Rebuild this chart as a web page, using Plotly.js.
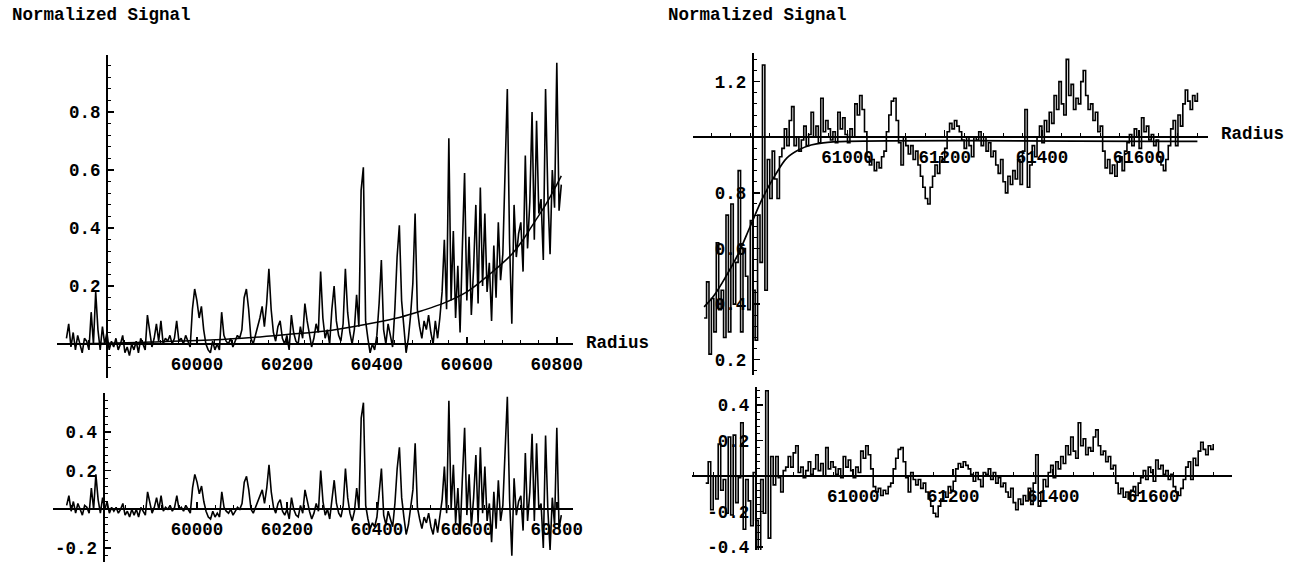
<!DOCTYPE html>
<html>
<head>
<meta charset="utf-8">
<script src="https://cdn.plot.ly/plotly-3.0.1.min.js"></script>
<style>html,body{margin:0;padding:0;background:#fff;}#chart{width:1306px;height:563px;}</style>
</head>
<body>
<div id="chart"></div>
<script>
// ---------- DATA ----------
// Left panels: radius grid start/step and signal
const LEFT_R0 = 59710, LEFT_DR = 5;
const TL_SIGNAL = [
 .02,.07,-.01,.04,-.02,.03,0,-.03,.02,.01,
 -.02,.11,0,.18,.05,-.02,.06,0,.04,-.02,
 .01,-.01,.02,-.02,0,.03,-.03,-.01,-.04,0,
 -.02,.01,-.03,.02,0,-.02,.10,.04,-.01,.02,
 .07,.01,.08,0,.02,.01,.03,0,.02,.08,
 .01,.02,0,.03,.01,-.01,.12,.19,.15,.09,
 .13,.05,0,-.02,-.03,.01,-.02,0,-.02,.11,
 .03,.01,0,.02,-.01,.01,.03,.02,.05,.16,
 .19,.12,.02,0,.03,.05,.09,.13,.06,.14,
 .26,.12,.04,.01,.06,.08,.02,0,.03,-.02,
 .10,.04,.01,0,.06,.02,.14,.08,.03,-.01,
 .02,.07,.04,.25,.09,.02,.05,0,.12,.20,
 .08,.03,.01,.07,.26,.11,.04,0,.05,.17,
 .06,.53,.61,.08,.02,-.03,0,-.02,.03,.14,
 .29,.05,0,.07,.03,-.01,.12,.30,.41,.15,
 .06,-.03,.02,.10,.21,.45,.12,.06,.02,.08,
 .05,.10,.04,0,.08,.02,.09,.18,.36,.12,
 .71,.15,.39,.09,.27,.04,.33,.59,.15,.37,
 .10,.26,.48,.14,.54,.20,.45,.18,.28,.08,
 .34,.16,.42,.22,.31,.62,.88,.35,.07,.48,
 .30,.38,.42,.25,.65,.33,.49,.80,.36,.77,
 .45,.50,.29,.88,.52,.31,.60,.47,.97,.46,
 .55
];
const TL_FIT_R = [59710,59800,59900,60000,60100,60200,60300,60400,60450,60500,60550,60600,60650,60700,60725,60750,60775,60800,60810];
const TL_FIT_V = [0.0,0.003,0.007,0.012,0.02,0.033,0.048,0.075,0.092,0.115,0.142,0.18,0.24,0.31,0.36,0.42,0.48,0.55,0.58];
const BL_RESID = [
 .02,.07,-.01,.04,-.02,.03,0,-.03,.02,.01,
 -.02,.11,0,.18,.05,-.02,.06,0,.04,-.02,
 .01,-.01,.01,-.02,0,.03,-.03,-.01,-.04,0,
 -.03,0,-.04,.01,-.01,-.03,.09,.03,-.02,.01,
 .06,0,.07,-.01,.01,0,.02,-.01,.01,.07,
 0,.01,-.01,.02,0,-.02,.11,.18,.14,.08,
 .12,.04,-.01,-.04,-.05,-.01,-.04,-.02,-.04,.09,
 .01,-.01,-.02,0,-.03,-.01,.01,0,.03,.14,
 .17,.10,0,-.02,.01,.03,.06,.10,.03,.11,
 .23,.09,.01,-.02,.03,.05,-.01,-.03,0,-.05,
 .06,0,-.03,-.04,.02,-.02,.10,.04,-.01,-.05,
 -.02,.03,-.01,.20,.04,-.03,0,-.05,.07,.15,
 .03,-.02,-.04,.02,.21,.06,-.02,-.06,-.01,.11,
 0,.47,.55,.02,-.05,-.10,-.07,-.09,-.04,.07,
 .21,-.03,-.08,-.01,-.05,-.09,.03,.21,.32,.06,
 -.04,-.13,-.08,0,.10,.34,.01,-.05,-.10,-.04,
 -.07,-.02,-.09,-.13,-.05,-.12,-.04,.05,.22,-.02,
 .56,0,.23,-.07,.11,-.13,.16,.42,-.03,.18,
 -.09,.06,.28,-.07,.32,-.02,.22,-.06,.03,-.17,
 .09,-.10,.15,-.06,.02,.32,.58,.05,-.24,.16,
 -.03,.04,.07,-.11,.29,-.06,.09,.39,-.06,.34,
 0,.03,-.20,.38,0,-.21,.06,-.08,.42,-.10,
 -.03
];
// Right panels
const RIGHT_R0 = 60705, RIGHT_DR = 5;
const TR_SIGNAL = [
 .35,.48,.22,.42,.30,.62,.38,.45,.28,.72,
 .30,.76,.40,.55,.88,.30,.60,.50,.38,.70,
 .45,.27,.72,.55,1.26,.45,.92,.78,.95,.85,
 .78,.93,.96,1.03,.97,1.06,1.11,.97,1.00,.95,
 .99,1.04,.97,1.01,1.09,1.00,1.04,.98,1.14,1.02,
 1.06,1.03,.99,1.02,.98,1.09,1.03,1.07,1.01,.98,
 1.03,1.00,1.12,1.08,1.15,1.10,1.02,.93,.90,.92,
 .88,.91,.89,.93,.95,1.02,1.08,1.13,1.14,1.06,
 .98,.90,1.00,.97,.94,.97,.92,.95,.90,.86,
 .82,.78,.76,.82,.86,.90,.87,.93,.91,.96,
 1.02,1.05,1.03,1.06,1.04,1.02,.99,.96,1.00,.97,
 .93,1.00,.99,1.02,.97,1.00,.95,.98,.93,.95,
 .90,.87,.92,.84,.80,.86,.83,.88,.85,.92,
 .83,.95,1.10,.82,.90,.97,.93,1.00,1.04,.98,
 1.06,1.02,1.09,1.05,1.15,1.10,1.20,1.12,1.08,1.28,
 1.15,1.19,1.10,1.14,1.12,1.20,1.24,1.15,1.10,1.12,
 1.06,1.09,1.02,1.04,.95,.89,.92,.87,.90,.86,
 .91,.93,.88,.95,.98,1.01,.97,1.03,1.00,.96,
 1.07,1.02,1.04,.99,1.01,.97,.99,.93,.90,.88,
 .92,.97,1.03,1.06,.97,1.08,1.04,1.12,1.17,1.13,
 1.10,1.15,1.13,1.16
];
const TR_FIT_R = [60705,60725,60750,60775,60800,60825,60850,60875,60900,60925,60950,61000,61720];
const TR_FIT_V = [0.39,0.43,0.50,0.58,0.68,0.78,0.86,0.925,0.955,0.972,0.98,0.985,0.985];
const BR_RESID = [
 -.04,.08,-.19,0,-.13,.18,-.08,-.02,-.21,.22,
 -.22,.23,-.15,-.01,.30,-.30,-.02,-.14,-.28,.02,
 -.25,-.45,-.02,-.21,.48,-.35,.11,-.05,.11,-.01,
 -.09,.03,.05,.11,.05,.13,.17,.02,.05,-.01,
 .03,.08,.01,.04,.12,.03,.07,0,.16,.04,
 .08,.05,.01,.04,-.01,.11,.05,.09,.03,-.01,
 .05,.02,.14,.10,.17,.12,.04,-.06,-.09,-.07,
 -.11,-.08,-.10,-.06,-.04,.04,.10,.15,.16,.08,
 -.01,-.09,.02,-.02,-.05,-.02,-.07,-.04,-.09,-.13,
 -.17,-.21,-.23,-.17,-.13,-.09,-.12,-.06,-.08,-.03,
 .04,.07,.05,.08,.06,.04,.01,-.03,.02,-.02,
 -.06,.02,.01,.04,-.02,.02,-.04,-.01,-.06,-.04,
 -.09,-.12,-.07,-.15,-.19,-.13,-.16,-.11,-.14,-.07,
 -.16,-.04,.12,-.17,-.09,-.02,-.06,.02,.06,-.01,
 .08,.04,.11,.07,.17,.12,.22,.14,.10,.30,
 .17,.21,.12,.16,.14,.22,.26,.17,.12,.14,
 .08,.11,.04,.06,-.04,-.10,-.07,-.12,-.09,-.13,
 -.08,-.06,-.11,-.04,-.01,.03,-.02,.05,.02,-.03,
 .09,.04,.06,.01,.03,-.02,.01,-.06,-.09,-.11,
 -.07,-.02,.05,.08,-.02,.10,.06,.14,.19,.15,
 .12,.17,.15,.18
];
// Tick labels
const LEFT_XTICKS = [60000,60200,60400,60600,60800];
const RIGHT_XTICKS = [61000,61200,61400,61600];
const TL_YTICKS = [0.2,0.4,0.6,0.8];
const BL_YTICKS = [-0.2,0.2,0.4];
const TR_YTICKS = [0.2,0.4,0.6,0.8,1.2];
const BR_YTICKS = [-0.4,-0.2,0.2,0.4];
const TITLE = "Normalized Signal";
const XLABEL = "Radius";

// ---------- RENDER ----------
const W = 1306, H = 563;
const fx = p => p / W, fy = p => 1 - p / H;
const grid = (r0, dr, n) => Array.from({length: n}, (_, i) => r0 + i * dr);
const FONT = {family: "Liberation Mono, DejaVu Sans Mono, monospace", size: 17.5, color: "#000", weight: "bold"};
const lbl = v => String(v);

const lineL = {color: "#000", width: 1.6};
const lineR = {color: "#000", width: 1.6, shape: "hv"};
const traces = [
  {x: grid(LEFT_R0, LEFT_DR, TL_SIGNAL.length), y: TL_SIGNAL, xaxis: "x", yaxis: "y", mode: "lines", line: lineL},
  {x: TL_FIT_R, y: TL_FIT_V, xaxis: "x", yaxis: "y", mode: "lines", line: {color: "#000", width: 1.5, shape: "spline"}},
  {x: grid(LEFT_R0, LEFT_DR, BL_RESID.length), y: BL_RESID, xaxis: "x2", yaxis: "y2", mode: "lines", line: lineL},
  {x: grid(RIGHT_R0, RIGHT_DR, TR_SIGNAL.length), y: TR_SIGNAL, xaxis: "x3", yaxis: "y3", mode: "lines", line: lineR},
  {x: TR_FIT_R, y: TR_FIT_V, xaxis: "x3", yaxis: "y3", mode: "lines", line: {color: "#000", width: 1.7, shape: "spline"}},
  {x: grid(RIGHT_R0, RIGHT_DR, BR_RESID.length), y: BR_RESID, xaxis: "x4", yaxis: "y4", mode: "lines", line: lineR}
];

function xax(dom, range, pos, ticks, t0) {
  return {domain: [fx(dom[0]), fx(dom[1])], range, anchor: "free", position: fy(pos),
    showline: true, linecolor: "#000", linewidth: 2, showgrid: false, zeroline: false,
    ticks: "inside", ticklen: 6, tickwidth: 1.5, tickcolor: "#000",
    tickmode: "array", tickvals: ticks, ticktext: ticks.map(lbl), tickfont: FONT, ticklabelstandoff: 4,
    minor: {ticks: "inside", ticklen: 3, tickwidth: 1, tickcolor: "#000", tick0: t0, dtick: 40, showgrid: false},
    fixedrange: true};
}
function yax(dom, range, pos, ticks) {
  return {domain: [fy(dom[1]), fy(dom[0])], range, anchor: "free", position: fx(pos),
    showline: true, linecolor: "#000", linewidth: 2, showgrid: false, zeroline: false,
    ticks: "inside", ticklen: 6, tickwidth: 1.5, tickcolor: "#000",
    tickmode: "array", tickvals: ticks, ticktext: ticks.map(v => String(v)), tickfont: FONT, ticklabelstandoff: 2,
    minor: {ticks: "inside", ticklen: 3, tickwidth: 1, tickcolor: "#000", tick0: 0, dtick: 0.04, showgrid: false},
    fixedrange: true};
}

const ann = (text, px, py) => ({text, x: fx(px), y: fy(py), xref: "paper", yref: "paper",
  xanchor: "left", yanchor: "middle", showarrow: false, font: FONT});

const layout = {
  width: W, height: H, margin: {l: 0, r: 0, t: 0, b: 0},
  paper_bgcolor: "#fff", plot_bgcolor: "#fff", showlegend: false,
  xaxis:  xax([57, 573],     [59689, 60836],     344,   LEFT_XTICKS, 59800),
  yaxis:  yax([55, 378],     [-0.117, 0.997],    107,   TL_YTICKS),
  xaxis2: xax([52.7, 573],   [59679, 60836],     509.3, LEFT_XTICKS, 59800),
  yaxis2: yax([393, 562],    [-0.272, 0.6],      103.5, BL_YTICKS),
  xaxis3: xax([692.7, 1208], [60681.5, 61741.8], 137.3, RIGHT_XTICKS, 61000),
  yaxis3: yax([53, 375],     [0.145, 1.303],     752.7, TR_YTICKS),
  xaxis4: xax([692, 1232],   [60677.6, 61757.6], 476,   RIGHT_XTICKS, 61000),
  yaxis4: yax([386.7, 550],  [-0.417, 0.503],    755.7, BR_YTICKS),
  annotations: [
    ann(TITLE, 10, 15), ann(TITLE, 666, 15),
    ann(XLABEL, 584, 343), ann(XLABEL, 1219, 134)
  ]
};
Plotly.newPlot("chart", traces, layout, {displayModeBar: false, staticPlot: true});
</script>
</body>
</html>
